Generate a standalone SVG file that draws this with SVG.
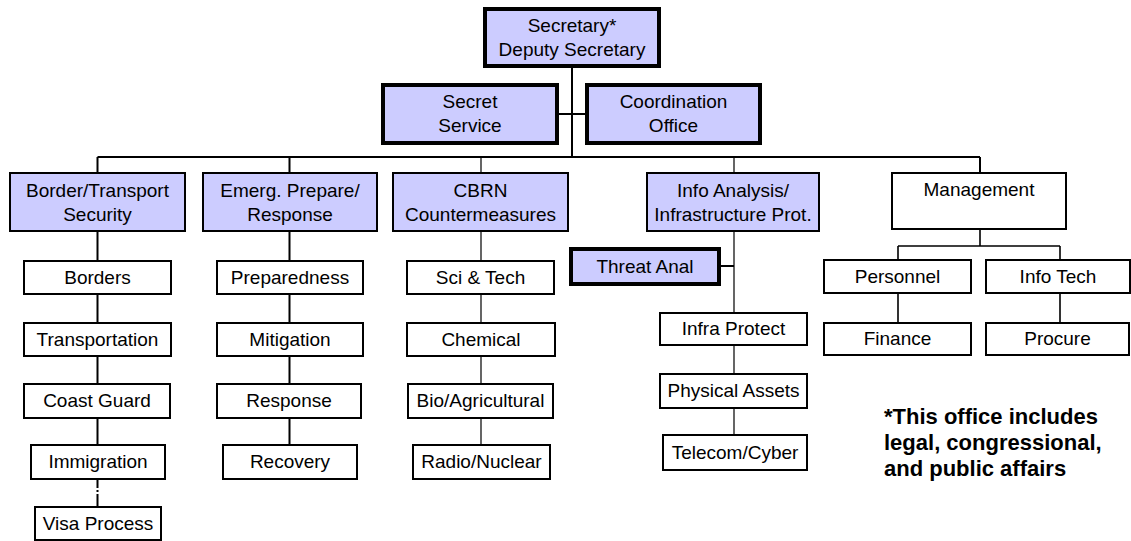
<svg xmlns="http://www.w3.org/2000/svg" width="1131" height="541" viewBox="0 0 1131 541">
<style>
.b{fill:#fff;stroke:#000;stroke-width:2}
.p{fill:#ccccff;stroke:#000;stroke-width:2}
.k{fill:#ccccff;stroke:#000;stroke-width:4}
text{font-family:"Liberation Sans",Arial,sans-serif;font-size:19px;fill:#000;text-anchor:middle}
.note{font-weight:bold;font-size:22px;text-anchor:start}
.c2{stroke:#000;stroke-width:2;fill:none}
.c1{stroke:#000;stroke-width:1.2;fill:none}
.c15{stroke:#000;stroke-width:1.6;fill:none}
</style>
<rect width="1131" height="541" fill="#fff"/>
<g id="connectors">
<path class="c2" d="M572 68V157M559 114H585M97.5 157H980M97.5 157V172M289.5 157V172M980 157V172"/>
<path class="c1" d="M481 157V172M734 157V172"/>
<path class="c2" d="M97.5 232V260M97.5 294V322M97.5 356V383M97.5 418V444M97.5 479V488M97.5 490V492M97.5 494V506"/>
<path class="c2" d="M289.5 232V260M289.5 294V322M289.5 356V383M289.5 418V444"/>
<path class="c1" d="M481 232V260M481 294V322M481 356V383M481 418V444"/>
<path class="c1" d="M734 232V312M734 345V373M734 408V434"/>
<path class="c2" d="M721 266H734"/>
<path class="c15" d="M980 230V246M898 246H1060M898 246V259M1060 246V259M898 294V322M1060 294V322"/>
</g>
<g id="secretary"><rect class="k" x="485" y="9" width="174" height="57"/><text x="572" y="32">Secretary*</text><text x="572" y="56">Deputy Secretary</text></g>
<g id="secret-service"><rect class="k" x="383" y="85" width="174" height="58"/><text x="470" y="108">Secret</text><text x="470" y="132">Service</text></g>
<g id="coordination"><rect class="k" x="587" y="85" width="173" height="58"/><text x="673.5" y="108">Coordination</text><text x="673.5" y="132">Office</text></g>
<g id="border-transport"><rect class="p" x="10" y="173" width="175" height="58"/><text x="97.5" y="197">Border/Transport</text><text x="97.5" y="221">Security</text></g>
<g id="emerg"><rect class="p" x="203" y="173" width="174" height="58"/><text x="290" y="197">Emerg. Prepare/</text><text x="290" y="221">Response</text></g>
<g id="cbrn"><rect class="p" x="393" y="173" width="175" height="58"/><text x="480.5" y="197">CBRN</text><text x="480.5" y="221">Countermeasures</text></g>
<g id="info-analysis"><rect class="p" x="647" y="173" width="172" height="58"/><text x="733" y="197">Info Analysis/</text><text x="733" y="221">Infrastructure Prot.</text></g>
<g id="management"><rect class="b" x="892" y="173" width="174" height="56"/><text x="979" y="196">Management</text></g>
<g id="borders"><rect class="b" x="24" y="261" width="147" height="33"/><text x="97.5" y="284">Borders</text></g>
<g id="transportation"><rect class="b" x="24" y="323" width="147" height="33"/><text x="97.5" y="346">Transportation</text></g>
<g id="coast-guard"><rect class="b" x="24" y="384" width="146" height="34"/><text x="97" y="407">Coast Guard</text></g>
<g id="immigration"><rect class="b" x="31" y="445" width="134" height="34"/><text x="98" y="468">Immigration</text></g>
<g id="visa-process"><rect class="b" x="35" y="507" width="126" height="33"/><text x="98" y="530">Visa Process</text></g>
<g id="preparedness"><rect class="b" x="217" y="261" width="146" height="33"/><text x="290" y="284">Preparedness</text></g>
<g id="mitigation"><rect class="b" x="217" y="323" width="146" height="33"/><text x="290" y="346">Mitigation</text></g>
<g id="response"><rect class="b" x="217" y="384" width="144" height="34"/><text x="289" y="407">Response</text></g>
<g id="recovery"><rect class="b" x="223" y="445" width="134" height="34"/><text x="290" y="468">Recovery</text></g>
<g id="sci-tech"><rect class="b" x="407" y="261" width="147" height="33"/><text x="480.5" y="284">Sci &amp; Tech</text></g>
<g id="chemical"><rect class="b" x="407" y="323" width="148" height="33"/><text x="481" y="346">Chemical</text></g>
<g id="bio-agri"><rect class="b" x="408" y="384" width="145" height="34"/><text x="480.5" y="407">Bio/Agricultural</text></g>
<g id="radio-nuclear"><rect class="b" x="413" y="445" width="137" height="34"/><text x="481.5" y="468">Radio/Nuclear</text></g>
<g id="threat-anal"><rect class="k" x="571" y="249" width="148" height="35"/><text x="645" y="273">Threat Anal</text></g>
<g id="infra-protect"><rect class="b" x="660" y="313" width="147" height="32"/><text x="733.5" y="335">Infra Protect</text></g>
<g id="physical-assets"><rect class="b" x="660" y="374" width="147" height="34"/><text x="733.5" y="397">Physical Assets</text></g>
<g id="telecom-cyber"><rect class="b" x="663" y="435" width="144" height="35"/><text x="735" y="459">Telecom/Cyber</text></g>
<g id="personnel"><rect class="b" x="824" y="260" width="147" height="33"/><text x="897.5" y="283">Personnel</text></g>
<g id="info-tech"><rect class="b" x="986" y="260" width="144" height="33"/><text x="1058" y="283">Info Tech</text></g>
<g id="finance"><rect class="b" x="824" y="323" width="147" height="32"/><text x="897.5" y="345">Finance</text></g>
<g id="procure"><rect class="b" x="986" y="323" width="143" height="32"/><text x="1057.5" y="345">Procure</text></g>
<g id="note"><text class="note" x="884" y="424">*This office includes</text><text class="note" x="884" y="450">legal, congressional,</text><text class="note" x="884" y="476">and public affairs</text></g>
</svg>
